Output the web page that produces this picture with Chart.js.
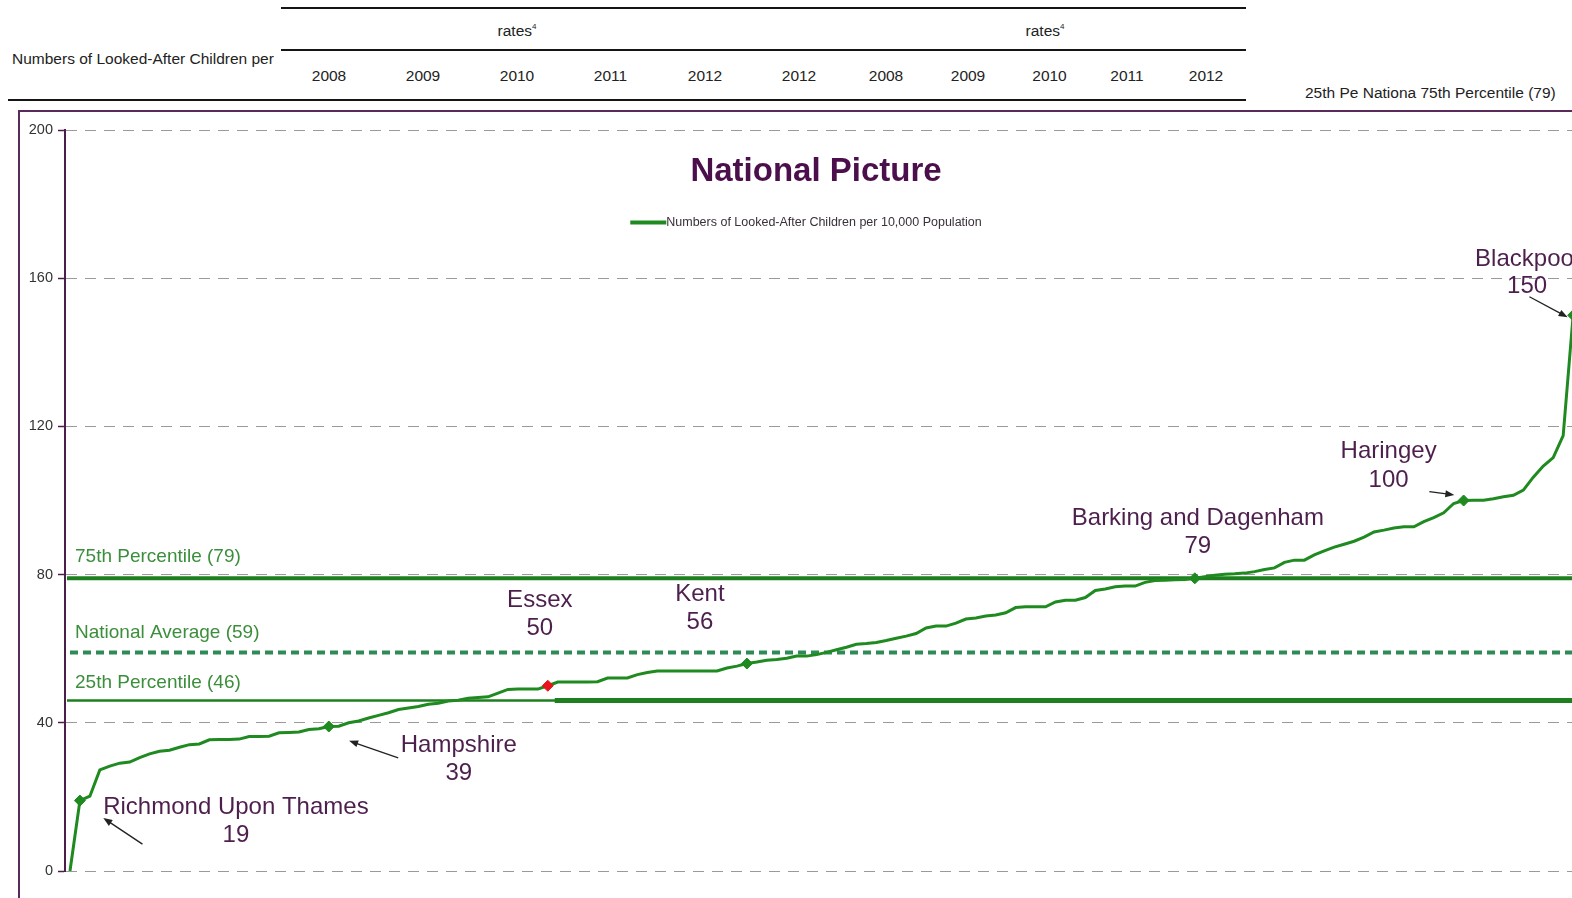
<!DOCTYPE html>
<html>
<head>
<meta charset="utf-8">
<script src="https://cdn.jsdelivr.net/npm/chart.js@4.4.1/dist/chart.umd.min.js"></script>
<style>
  html, body { margin: 0; padding: 0; background: #fff; }
  body { width: 1572px; height: 898px; overflow: hidden; position: relative;
         font-family: "Liberation Sans", Arial, sans-serif; color: #222; }
  .rule { position: absolute; background: #151515; }
  .hdr { position: absolute; font-size: 15.5px; white-space: nowrap; transform: translate(-50%, -50%); }
  .hdr sup { font-size: 8px; vertical-align: 7px; }
  .left { transform: translate(0, -50%); }
  #frame { position: absolute; left: 18px; top: 110px; width: 1620px; height: 820px; border: 2px solid #5a2a5a; }
  #chart { position: absolute; left: 0; top: 0; }
</style>
</head>
<body>
<div class="rule" style="left:281px; top:7px; width:965px; height:1.5px;"></div>
<div class="rule" style="left:281px; top:49px; width:965px; height:1.5px;"></div>
<div class="rule" style="left:8px; top:99px; width:1238px; height:2px;"></div>
<div id="header"></div>
<div id="frame"><canvas id="chart" width="1588" height="786"></canvas></div>

<script>
// header table above the chart
const headerTitle = 'Numbers of Looked-After Children per';
const headerGroup = 'rates';
const headerYears = ['2008', '2009', '2010', '2011', '2012', '2012', '2008', '2009', '2010', '2011', '2012'];
const headerLegend = '25th Pe Nationa 75th Percentile (79)';

// ranked rates per 10,000 (one value per local authority, lowest to highest)
const rates = [
  0, 19, 20.2, 27.3, 28.3, 29.1, 29.4, 30.6, 31.6, 32.3,
  32.6, 33.4, 34.1, 34.3, 35.4, 35.5, 35.5, 35.6, 36.3, 36.3,
  36.4, 37.3, 37.4, 37.5, 38.2, 38.4, 39, 39.1, 40, 40.5,
  41.3, 42, 42.7, 43.6, 44, 44.4, 45, 45.3, 45.9, 46.1,
  46.6, 46.8, 47, 48, 49, 49.1, 49.1, 49.1, 50, 51,
  51, 51, 51, 51.1, 52.1, 52.1, 52.1, 53, 53.6, 54,
  54, 54, 54, 54, 54, 54, 54.8, 55.3, 56, 56.4,
  56.9, 57.1, 57.4, 58, 58, 58.4, 59, 59.7, 60.4, 61.2,
  61.4, 61.7, 62.2, 62.8, 63.4, 64.1, 65.6, 66.1, 66.1, 66.9,
  68, 68.3, 68.8, 69.1, 69.7, 71.1, 71.3, 71.3, 71.3, 72.6,
  73.1, 73.1, 73.8, 75.7, 76.1, 76.7, 76.9, 76.9, 77.9, 78.4,
  78.5, 78.6, 78.7, 79, 79.4, 79.8, 80.1, 80.2, 80.4, 80.8,
  81.4, 81.8, 83.3, 83.9, 83.9, 85.3, 86.4, 87.4, 88.2, 89,
  90.1, 91.5, 92, 92.6, 92.9, 92.9, 94.3, 95.4, 96.7, 99.2,
  100, 100.1, 100.1, 100.5, 101, 101.4, 102.8, 106.3, 109.3, 111.6,
  117.5, 150
];
const seriesLabel = 'Numbers of Looked-After Children per 10,000 Population';

const labelNames = ['Richmond Upon Thames', 'Hampshire', 'Essex', 'Kent', 'Barking and Dagenham', 'Haringey', 'Blackpool'];
const labelRanks = [1, 26, 48, 68, 113, 140, 151];
const labelValues = [19, 39, 50, 56, 79, 100, 150];

const refNames = ['75th Percentile', 'National Average', '25th Percentile'];
const refValues = [79, 59, 46];
const lowerBandStart = 48.7;   // rank where the 25th percentile line thickens

const X_MIN = -0.5, X_MAX = 153.85;

// header
const headerYearX = [329, 423, 517, 610.5, 705, 799, 886, 968, 1049.5, 1127, 1206];
const hdr = document.getElementById('header');
function addHdr(html, x, y, cls) {
  const d = document.createElement('div');
  d.className = 'hdr' + (cls ? ' ' + cls : '');
  d.style.left = x + 'px';
  d.style.top = y + 'px';
  d.innerHTML = html;
  hdr.appendChild(d);
}
addHdr(headerTitle, 12, 59, 'left');
addHdr(headerGroup + '<sup>4</sup>', 517, 31);
addHdr(headerGroup + '<sup>4</sup>', 1045, 31);
headerYears.forEach((yr, i) => addHdr(yr, headerYearX[i], 75.5));
addHdr(headerLegend, 1305, 92.5, 'left');

// annotation layout, relative to the marked point: [dx, dyName, dyValue]
const labelOffsets = [[156, 7, 35], [130, 19, 47], [-8, -85, -57], [-47, -69, -41], [3, -60, -32], [-75, -49, -20], [-46, -56, -29]];
// arrows: [tailDx, tailDy, headDx, headDy]
const arrowOffsets = [[62.5, 43.5, 23.4, 17.4], [69.4, 31.4, 20.3, 14.3], null, null, null, [-34.3, -8.8, -9.3, -5.5], [-43.7, -18.5, -5.5, 2]];
const refCaptionShift = [-22, -20, -18];

const FONT = '"Liberation Sans", Arial, sans-serif';
const GREEN = '#1f8a1f';

function drawArrow(ctx, x1, y1, x2, y2) {
  const a = Math.atan2(y2 - y1, x2 - x1);
  ctx.strokeStyle = '#222';
  ctx.fillStyle = '#222';
  ctx.lineWidth = 1.3;
  ctx.beginPath();
  ctx.moveTo(x1, y1);
  ctx.lineTo(x2 - 6 * Math.cos(a), y2 - 6 * Math.sin(a));
  ctx.stroke();
  ctx.beginPath();
  ctx.moveTo(x2, y2);
  ctx.lineTo(x2 - 9 * Math.cos(a) + 3.5 * Math.sin(a), y2 - 9 * Math.sin(a) - 3.5 * Math.cos(a));
  ctx.lineTo(x2 - 9 * Math.cos(a) - 3.5 * Math.sin(a), y2 - 9 * Math.sin(a) + 3.5 * Math.cos(a));
  ctx.closePath();
  ctx.fill();
}

const overlay = {
  id: 'overlay',
  afterDatasetsDraw(chart) {
    const { ctx, chartArea, scales: { x, y } } = chart;
    ctx.save();
    // reference line captions
    ctx.font = '19px ' + FONT;
    ctx.fillStyle = '#3b8e3b';
    ctx.textAlign = 'left';
    ctx.textBaseline = 'middle';
    refNames.forEach((n, i) => {
      ctx.fillText(`${n} (${refValues[i]})`, chartArea.left + 10, y.getPixelForValue(refValues[i]) + refCaptionShift[i]);
    });
    // authority call-outs
    ctx.font = '24px ' + FONT;
    ctx.textAlign = 'center';
    labelNames.forEach((n, i) => {
      const px = x.getPixelForValue(labelRanks[i]);
      const py = y.getPixelForValue(labelValues[i]);
      const o = labelOffsets[i];
      ctx.fillStyle = '#4d1f4d';
      ctx.fillText(n, px + o[0], py + o[1]);
      ctx.fillText(String(labelValues[i]), px + o[0], py + o[2]);
      const a = arrowOffsets[i];
      if (a) drawArrow(ctx, px + a[0], py + a[1], px + a[2], py + a[3]);
    });
    // title
    const cx = chart.width / 2;
    ctx.font = 'bold 33px ' + FONT;
    ctx.fillStyle = '#4b0f4b';
    ctx.textAlign = 'center';
    ctx.fillText('National Picture', cx + 2, 59.5);
    // legend
    ctx.font = '12.5px ' + FONT;
    const tw = ctx.measureText(seriesLabel).width;
    const lx = cx - 8 - (36 + tw) / 2;
    ctx.strokeStyle = GREEN;
    ctx.lineWidth = 4;
    ctx.beginPath();
    ctx.moveTo(lx, 110.5);
    ctx.lineTo(lx + 36, 110.5);
    ctx.stroke();
    ctx.fillStyle = '#3a2f3a';
    ctx.textAlign = 'left';
    ctx.fillText(seriesLabel, lx + 36, 111);
    ctx.restore();
  }
};

const points = rates.map((v, i) => ({ x: i, y: v }));
const essexRank = labelRanks[labelNames.indexOf('Essex')];
const markerRadius = rates.map((v, i) => labelRanks.includes(i) ? 5.5 : 0);
const markerColor = rates.map((v, i) => i === essexRank ? '#e8141e' : GREEN);

function flat(value, from) {
  return [{ x: from, y: value }, { x: X_MAX, y: value }];
}

new Chart(document.getElementById('chart'), {
  type: 'line',
  data: {
    datasets: [
      { label: seriesLabel, data: points, borderColor: GREEN, borderWidth: 3, tension: 0,
        pointStyle: 'rectRot', pointRadius: markerRadius, pointBackgroundColor: markerColor,
        pointBorderColor: markerColor, pointBorderWidth: 1 },
      { label: refNames[0], data: flat(refValues[0], -0.3), borderColor: '#1e7f1e', borderWidth: 4, pointRadius: 0 },
      { label: refNames[1], data: flat(refValues[1], 0), borderColor: '#2e8b57', borderWidth: 4,
        borderDash: [8, 5], borderCapStyle: 'butt', pointRadius: 0 },
      { label: refNames[2], data: flat(refValues[2], -0.3), borderColor: '#1e7f1e', borderWidth: 2.5, pointRadius: 0 },
      { label: refNames[2], data: flat(refValues[2], lowerBandStart), borderColor: '#1e7f1e', borderWidth: 5, pointRadius: 0 }
    ]
  },
  options: {
    responsive: false,
    animation: false,
    layout: { padding: { top: 18, bottom: 27, left: 0, right: 0 } },
    plugins: { legend: { display: false }, title: { display: false }, tooltip: { enabled: false } },
    scales: {
      x: { type: 'linear', min: X_MIN, max: X_MAX, display: false },
      y: {
        min: 0, max: 200,
        ticks: { stepSize: 40, color: '#333', padding: 5, font: { size: 14.5, family: FONT } },
        grid: { color: '#9a9a9a', lineWidth: 1, tickLength: 7, tickColor: '#4a1f4a', tickWidth: 1.5 },
        border: { display: true, color: '#4a1f4a', width: 2, dash: [11, 8] },
        afterFit(s) { s.width = 45; }
      }
    }
  },
  plugins: [overlay]
});
</script>
</body>
</html>
